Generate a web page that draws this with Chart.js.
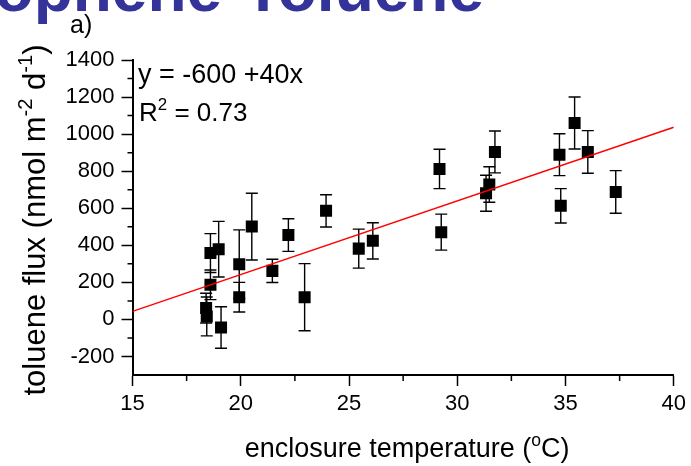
<!DOCTYPE html>
<html>
<head>
<meta charset="utf-8">
<script src="https://cdn.jsdelivr.net/npm/chart.js"></script>
<style>
  html, body { margin: 0; padding: 0; background: #fff; }
  canvas { display: block; }
</style>
</head>
<body>
<canvas id="fluxChart" width="691" height="466"></canvas>
<script>
// 温度 (°C) とトルエンフラックス（読み取り値）
const temps = [18.40, 18.43, 18.60, 18.60, 18.98, 19.09, 19.93, 19.93, 20.51, 21.46,
  22.20, 22.95, 23.94, 25.45, 26.10, 29.18, 29.26, 31.33, 31.48, 31.74,
  34.72, 34.78, 35.42, 36.03, 37.32];
const flux = [61, 16, 187, 358, 379, -44, 298, 120, 501, 262,
  455, 120, 586, 382, 424, 812, 471, 681, 728, 904,
  889, 613, 1060, 904, 688];
const fluxErr = [80, 105, 80, 105, 150, 112, 185, 80, 180, 63,
  88, 181, 87, 105, 98, 106, 97, 97, 96, 113,
  113, 93, 140, 115, 115];

// 回帰直線の両端
const fitX = [15, 40];
const fitY = [43, 1037];

// 目盛り
const xTicks = [15, 20, 25, 30, 35, 40];
const xMinor = [17.5, 22.5, 27.5, 32.5, 37.5];
const yTicks = [-200, 0, 200, 400, 600, 800, 1000, 1200, 1400];
const yMinor = [-100, 100, 300, 500, 700, 900, 1100, 1300];

const FONT = '"Liberation Sans", Arial, sans-serif';

// 上付き文字を含むテキストを描く
function drawRich(ctx, parts, x, y, size, align) {
  const supSize = size * 0.65;
  let total = 0;
  for (const [t, sup] of parts) {
    ctx.font = `${sup ? supSize : size}px ${FONT}`;
    total += ctx.measureText(t).width;
  }
  let cx = align === "center" ? x - total / 2 : x;
  ctx.textAlign = "left";
  ctx.textBaseline = "alphabetic";
  for (const [t, sup] of parts) {
    ctx.font = `${sup ? supSize : size}px ${FONT}`;
    ctx.fillText(t, cx, sup ? y - size * 0.42 : y);
    cx += ctx.measureText(t).width;
  }
}

// 誤差棒（点の下に描く）
const errorBars = {
  id: "errorBars",
  beforeDatasetsDraw(chart) {
    const { ctx, scales: { x, y } } = chart;
    ctx.save();
    ctx.strokeStyle = "#000";
    ctx.lineWidth = 1.4;
    temps.forEach((t, i) => {
      const px = x.getPixelForValue(t);
      const top = y.getPixelForValue(flux[i] + fluxErr[i]);
      const bot = y.getPixelForValue(flux[i] - fluxErr[i]);
      ctx.beginPath();
      ctx.moveTo(px, top); ctx.lineTo(px, bot);
      ctx.moveTo(px - 6, top); ctx.lineTo(px + 6, top);
      ctx.moveTo(px - 6, bot); ctx.lineTo(px + 6, bot);
      ctx.stroke();
    });
    ctx.restore();
  },
};

// 副目盛り・タイトル類
const decorations = {
  id: "decorations",
  afterDraw(chart) {
    const { ctx, chartArea, scales: { x, y } } = chart;
    ctx.save();
    ctx.strokeStyle = "#000";
    ctx.lineWidth = 1.5;
    ctx.beginPath();
    xMinor.forEach((v) => {
      const px = x.getPixelForValue(v);
      ctx.moveTo(px, chartArea.bottom);
      ctx.lineTo(px, chartArea.bottom + 6);
    });
    yMinor.forEach((v) => {
      const py = y.getPixelForValue(v);
      ctx.moveTo(chartArea.left - 5, py);
      ctx.lineTo(chartArea.left, py);
    });
    ctx.stroke();

    // 上で切れている見出し
    ctx.fillStyle = "#333399";
    ctx.font = `bold 64px ${FONT}`;
    ctx.textAlign = "right";
    ctx.textBaseline = "alphabetic";
    ctx.fillText("Thiophene-Toluene", 484, 11);

    ctx.fillStyle = "#000";
    drawRich(ctx, [["a)", false]], 70, 33, 25, "left");

    // 式と決定係数
    drawRich(ctx, [["y = -600 +40x", false]], 138, 83, 27, "left");
    drawRich(ctx, [["R", false], ["2", true], [" = 0.73", false]], 139, 121, 26, "left");

    // 軸タイトル
    drawRich(ctx, [["enclosure temperature (", false], ["o", true], ["C)", false]],
      (chartArea.left + chartArea.right) / 2 + 4, 457, 27, "center");

    ctx.save();
    ctx.translate(45, 220);
    ctx.rotate(-Math.PI / 2);
    drawRich(ctx, [["toluene flux (nmol m", false], ["-2", true], [" d", false], ["-1", true], [")", false]],
      0, 0, 31, "center");
    ctx.restore();
    ctx.restore();
  },
};

const axisCommon = {
  grid: { drawOnChartArea: false, drawTicks: true, tickLength: 11, tickColor: "#000", tickWidth: 1.5 },
  border: { color: "#000", width: 2 },
};

new Chart(document.getElementById("fluxChart"), {
  type: "scatter",
  data: {
    datasets: [
      {
        label: "fit",
        data: fitX.map((v, i) => ({ x: v, y: fitY[i] })),
        showLine: true,
        borderColor: "#ff0000",
        borderWidth: 1.4,
        pointRadius: 0,
        order: 0,
      },
      {
        label: "toluene flux",
        data: temps.map((t, i) => ({ x: t, y: flux[i] })),
        pointStyle: "rect",
        pointRadius: 8.5,
        backgroundColor: "#000",
        borderColor: "#000",
        borderWidth: 0,
        order: 1,
      },
    ],
  },
  options: {
    responsive: false,
    animation: false,
    layout: { padding: { left: 0, top: 60, right: 14, bottom: 0 } },
    plugins: { legend: { display: false }, tooltip: { enabled: false } },
    scales: {
      x: {
        ...axisCommon,
        type: "linear",
        min: 15,
        max: 40,
        afterBuildTicks: (s) => { s.ticks = xTicks.map((v) => ({ value: v })); },
        afterFit: (s) => { s.height = 91; },
        ticks: { color: "#000", padding: 5, font: { size: 22, family: FONT }, maxRotation: 0,
          callback: (v) => String(v) },
      },
      y: {
        ...axisCommon,
        type: "linear",
        min: -300,
        max: 1400,
        afterBuildTicks: (s) => { s.ticks = yTicks.map((v) => ({ value: v })); },
        afterFit: (s) => { s.width = 132.5; },
        ticks: { color: "#000", padding: 7, font: { size: 22, family: FONT },
          callback: (v) => String(v) },
      },
    },
  },
  plugins: [errorBars, decorations],
});
</script>
</body>
</html>
